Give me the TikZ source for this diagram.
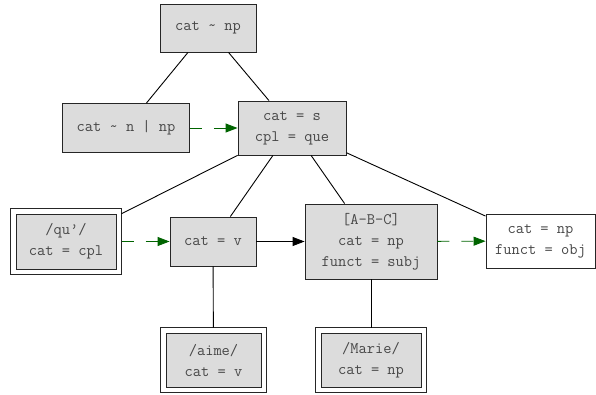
\documentclass[tikz,border=0pt]{standalone}
\usetikzlibrary{arrows.meta}
\definecolor{boxgray}{HTML}{DCDCDC}
\definecolor{linkgreen}{HTML}{006400}
\tikzset{
    box/.style ={
        rectangle,
        inner sep=0pt,
        fill=boxgray,
        draw=black!85,
        line width=0.9pt,
        text=black!72,
        align=center
    },
    lexbox/.style ={
        box,
        outer sep=5.5pt
    },
    frame/.style ={
        draw=black!85,
        line width=0.9pt
    },
    link/.style ={
        draw=linkgreen,
        line width=0.9pt,
        dash pattern=on 12pt off 12pt,
        -{Triangle[length=12pt,width=9pt,fill=linkgreen]}
    },
    arc/.style ={
        draw=black,
        line width=0.9pt,
        -{Triangle[length=12pt,width=9pt]}
    }
}
\begin{document}
\begin{tikzpicture}[x=1pt,y=-1pt,font=\ttfamily\fontsize{16}{21}\selectfont]

        \path[use as bounding box] (0,0) rectangle (596,394);
        \node[box,minimum width=96pt,minimum height=48pt] (TOP) at(208,28) {cat \textasciitilde{} np};
        \node[box,minimum width=127pt,minimum height=49pt] (NOUN) at(126,128) {cat \textasciitilde{} n | np};
        \node[box,minimum width=108pt,minimum height=54pt] (SENT) at(292,128) {cat = s\\cpl = que};
        \node[lexbox,minimum width=100pt,minimum height=55pt] (QU) at(66,241.5) {/qu’/\\cat = cpl};
        \node[box,minimum width=86pt,minimum height=49pt] (VERB) at(213,241.5) {cat = v};
        \node[box,minimum width=132pt,minimum height=75pt] (SUBJ) at(371,241.5) {[A-B-C]\\cat = np\\funct = subj};
        \node[box,fill=white,minimum width=109pt,minimum height=54pt] (OBJ) at(540.5,241) {cat = np\\funct = obj};
        \node[lexbox,minimum width=95pt,minimum height=54pt] (AIME) at(213.5,360) {/aime/\\cat = v};
        \node[lexbox,minimum width=100pt,minimum height=54pt] (MARIE) at(371,360) {/Marie/\\cat = np};
        % outer frames of the lexical entries
        \foreach \n in {QU,AIME,MARIE}
            \draw[frame] (\n.north west) rectangle (\n.south east);
        \draw[line width=0.9pt] (TOP)--(NOUN);
        \draw[line width=0.9pt] (TOP)--(SENT);
        \draw[line width=0.9pt] (SENT)--(QU);
        \draw[line width=0.9pt] (SENT)--(VERB);
        \draw[line width=0.9pt] (SENT)--(SUBJ);
        \draw[line width=0.9pt] (SENT)--(OBJ);
        \draw[line width=0.9pt] (VERB)--(AIME);
        \draw[line width=0.9pt] (SUBJ)--(MARIE);
        \draw[link] (NOUN)--(SENT);
        \draw[link] (QU)--(VERB);
        \draw[link] (SUBJ)--(OBJ);
        \draw[arc] (VERB)--(SUBJ);
    \end{tikzpicture}
\end{document}
